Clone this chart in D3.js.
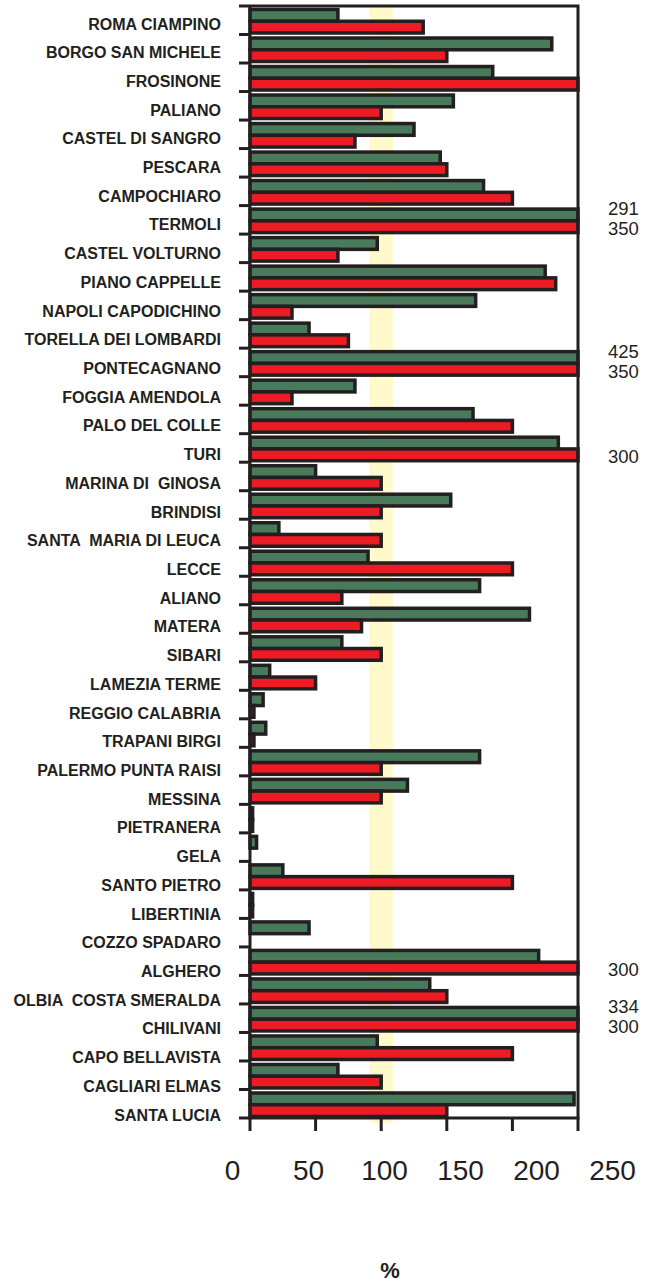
<!DOCTYPE html>
<html>
<head>
<meta charset="utf-8">
<title>Stazioni</title>
<script src="https://d3js.org/d3.v7.min.js"></script>
<style>
*{ margin:0; padding:0; }
body{ background:#fff; }
svg{ display:block; font-family:"Liberation Sans", Arial, sans-serif; }
</style>
</head>
<body>
<script>
var width = 657, height = 1286;

// dati
var categories = ["ROMA CIAMPINO","BORGO SAN MICHELE","FROSINONE","PALIANO","CASTEL DI SANGRO","PESCARA",
  "CAMPOCHIARO","TERMOLI","CASTEL VOLTURNO","PIANO CAPPELLE","NAPOLI CAPODICHINO","TORELLA DEI LOMBARDI",
  "PONTECAGNANO","FOGGIA AMENDOLA","PALO DEL COLLE","TURI","MARINA DI  GINOSA","BRINDISI","SANTA  MARIA DI LEUCA",
  "LECCE","ALIANO","MATERA","SIBARI","LAMEZIA TERME","REGGIO CALABRIA","TRAPANI BIRGI","PALERMO PUNTA RAISI",
  "MESSINA","PIETRANERA","GELA","SANTO PIETRO","LIBERTINIA","COZZO SPADARO","ALGHERO","OLBIA  COSTA SMERALDA",
  "CHILIVANI","CAPO BELLAVISTA","CAGLIARI ELMAS","SANTA LUCIA"];
var greenVals = [67,230,185,155,125,145,178,291,97,225,172,45,425,80,170,235,50,153,22,90,175,213,70,15,10,12,175,120,2,5,25,2,45,220,137,334,97,67,247];
var redVals   = [132,150,250,100,80,150,200,350,67,233,32,75,350,32,200,300,100,100,100,200,70,85,100,50,3,3,100,100,2,0,200,2,0,300,150,300,200,100,150];
var xTicks = [0,50,100,150,200,250];
var refBand = [91,109];
var xMax = 250;

var series = [{key:"g", fill:"#487a5b", vals:greenVals}, {key:"r", fill:"#ed1c24", vals:redVals}];

var ink = "#231f20";
var top0 = 6, bottom0 = 1118, left0 = 250, right0 = 578;

var svg = d3.select("body").append("svg").attr("width", width).attr("height", height);

var x = d3.scaleLinear().domain([0, xMax]).range([left0, right0]);
var y = d3.scaleBand().domain(categories).range([top0, bottom0]).padding(0);
var ySub = d3.scaleBand().domain(series.map(d=>d.key)).range([3.5, 27]).padding(0);
// etichette a sinistra e numeri dell'asse hanno una spaziatura propria
var yLab = d3.scalePoint().domain(categories).range([24, 1115]);
var xLab = d3.scaleLinear().domain([0, xMax]).range([232.5, 612.5]);

// banda gialla
svg.append("rect")
  .attr("x", x(refBand[0])).attr("y", top0)
  .attr("width", x(refBand[1]) - x(refBand[0]))
  .attr("height", bottom0 + 5 - top0)
  .attr("fill", "#fff9cc");

// barre
var rows = [];
categories.forEach(function(c, i){
  series.forEach(function(s){ rows.push({cat:c, key:s.key, fill:s.fill, v:s.vals[i]}); });
});

svg.append("g").selectAll("rect").data(rows).enter().append("rect")
  .attr("x", x(0))
  .attr("y", d=>y(d.cat) + ySub(d.key))
  .attr("width", d=>x(Math.min(d.v, xMax)) - x(0))
  .attr("height", ySub.bandwidth())
  .attr("fill", d=>d.fill)
  .attr("stroke", ink)
  .attr("stroke-width", 3.5);

// valori fuori scala
svg.append("g").selectAll("text").data(rows.filter(d=>d.v > xMax)).enter().append("text")
  .attr("x", 608)
  .attr("y", d=>y(d.cat) + (d.key === "g" ? 3 : 23))
  .attr("dominant-baseline", "central")
  .attr("font-size", "18.5px")
  .attr("fill", ink)
  .text(d=>d.v);

// cornice
svg.append("path")
  .attr("d", "M" + left0 + "," + top0 + "H" + right0 + "V" + bottom0)
  .attr("fill", "none").attr("stroke", ink).attr("stroke-width", 3);

// asse y
var yTickPos = categories.map(c=>y(c)).concat([bottom0]);
svg.append("line").attr("x1", left0).attr("x2", left0).attr("y1", top0).attr("y2", bottom0)
  .attr("stroke", ink).attr("stroke-width", 3);
svg.append("g").selectAll("line").data(yTickPos).enter().append("line")
  .attr("x1", 239).attr("x2", left0).attr("y1", d=>d).attr("y2", d=>d)
  .attr("stroke", ink).attr("stroke-width", 3);

svg.append("g").selectAll("text").data(categories).enter().append("text")
  .attr("x", 221)
  .attr("y", d=>yLab(d))
  .attr("dominant-baseline", "central")
  .attr("text-anchor", "end")
  .attr("font-size", "16px")
  .attr("font-weight", "bold")
  .attr("fill", ink)
  .style("white-space", "pre")
  .text(d=>d);

// asse x
svg.append("line").attr("x1", left0 - 1.5).attr("x2", right0 + 1.5).attr("y1", bottom0).attr("y2", bottom0)
  .attr("stroke", ink).attr("stroke-width", 3);
svg.append("g").selectAll("line").data(xTicks).enter().append("line")
  .attr("x1", d=>x(d)).attr("x2", d=>x(d)).attr("y1", bottom0).attr("y2", bottom0 + 13)
  .attr("stroke", ink).attr("stroke-width", 3);
svg.append("g").selectAll("text").data(xTicks).enter().append("text")
  .attr("x", d=>xLab(d))
  .attr("y", 1180)
  .attr("text-anchor", "middle")
  .attr("font-size", "28px")
  .attr("fill", ink)
  .text(d=>d);

svg.append("text")
  .attr("x", 390).attr("y", 1278)
  .attr("text-anchor", "middle")
  .attr("font-size", "22px")
  .attr("font-weight", "bold")
  .attr("fill", ink)
  .text("%");
</script>
</body>
</html>
